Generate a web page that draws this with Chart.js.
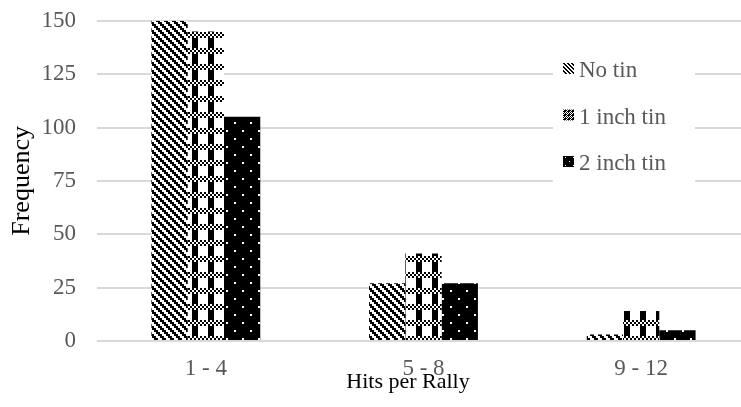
<!DOCTYPE html>
<html>
<head>
<meta charset="utf-8">
<script src="https://cdn.jsdelivr.net/npm/chart.js@4"></script>
<style>
  html, body { margin: 0; padding: 0; background: #fff; overflow: hidden; width: 741px; height: 407px; }
  #wrap { position: absolute; left: 0; top: 0; width: 750px; height: 407px; }
</style>
</head>
<body>
<div id="wrap"><canvas id="c"></canvas></div>
<script>
// Hits per rally, by tin height
const categories = ['1 - 4', '5 - 8', '9 - 12'];
const seriesNames = ['No tin', '1 inch tin', '2 inch tin'];
const noTin = [150, 27, 3];
const oneInchTin = [145, 41, 14];
const twoInchTin = [105, 27, 5];
const yTicks = [0, 25, 50, 75, 100, 125, 150];

const FONT = '"Liberation Serif", "Times New Roman", serif';

// 8x8 fill cells, true = black
function downDiagonal(x, y) { return ((x - y) & 3) < 2; }
function plaid(x, y) { return y < 3 ? ((x + y) & 1) === 0 : x < 3; }
function dottedBlack(x, y) { return !((x === 1 && y === 1) || (x === 5 && y === 5)); }
// small key version of the plaid cell
function plaidKey(x, y) { return ((x + y) & 1) === 0 || ((x & 3) < 2 && (y & 3) >= 2); }

function makeTile(fn, scale) {
  const c = document.createElement('canvas');
  c.width = c.height = 8 * scale;
  const g = c.getContext('2d');
  g.fillStyle = '#fff';
  g.fillRect(0, 0, c.width, c.height);
  g.fillStyle = '#000';
  for (let y = 0; y < 8; y++) {
    for (let x = 0; x < 8; x++) {
      if (fn(x, y)) g.fillRect(x * scale, y * scale, scale, scale);
    }
  }
  return c;
}

const canvas = document.getElementById('c');
const ctx0 = canvas.getContext('2d');
const barPatterns = [downDiagonal, plaid, dottedBlack].map(f => ctx0.createPattern(makeTile(f, 2), 'repeat'));
const keyPatterns = [downDiagonal, plaidKey, dottedBlack].map(f => ctx0.createPattern(makeTile(f, 1), 'repeat'));

// Legend panel and horizontal axis title
const overlay = {
  id: 'overlay',
  afterDraw(chart) {
    const ctx = chart.ctx;
    ctx.save();
    ctx.fillStyle = '#fff';
    ctx.fillRect(553, 48, 142, 150);
    const baselines = [77, 123.5, 170];
    ctx.font = '23px ' + FONT;
    ctx.textBaseline = 'alphabetic';
    ctx.textAlign = 'left';
    chart.data.datasets.forEach((ds, i) => {
      ctx.fillStyle = keyPatterns[i];
      ctx.fillRect(563, baselines[i] - 14, 11, 11);
      ctx.fillStyle = '#595959';
      ctx.fillText(ds.label, 579, baselines[i]);
    });
    ctx.fillStyle = '#000';
    ctx.font = '22px ' + FONT;
    ctx.textAlign = 'center';
    ctx.fillText('Hits per Rally', 408, 388);
    ctx.restore();
  }
};

new Chart(canvas, {
  type: 'bar',
  data: {
    labels: categories,
    datasets: [
      { label: seriesNames[0], data: noTin, backgroundColor: barPatterns[0] },
      { label: seriesNames[1], data: oneInchTin, backgroundColor: barPatterns[1] },
      { label: seriesNames[2], data: twoInchTin, backgroundColor: barPatterns[2] }
    ]
  },
  options: {
    responsive: true,
    maintainAspectRatio: false,
    animation: false,
    devicePixelRatio: 1,
    layout: { padding: 0 },
    datasets: { bar: { categoryPercentage: 0.5, barPercentage: 1, borderWidth: 0 } },
    plugins: { legend: { display: false }, tooltip: { enabled: false } },
    scales: {
      x: {
        grid: { display: false, drawTicks: false },
        border: { display: false },
        ticks: { padding: 14, color: '#595959', font: { family: FONT, size: 23 } },
        afterFit(s) { s.height = 66; }
      },
      y: {
        min: 0,
        max: 150,
        afterBuildTicks(s) { s.ticks = yTicks.map(v => ({ value: v })); },
        grid: { color: '#d9d9d9', lineWidth: 2, drawTicks: true, tickLength: 14, tickColor: 'rgba(0,0,0,0)' },
        border: { display: false },
        ticks: { padding: 7, color: '#595959', font: { family: FONT, size: 23 } },
        title: { display: true, text: 'Frequency', color: '#000', font: { family: FONT, size: 26 }, padding: { top: 7, bottom: 0 } },
        afterFit(s) { s.width = 97; }
      }
    }
  },
  plugins: [overlay]
});
</script>
</body>
</html>
